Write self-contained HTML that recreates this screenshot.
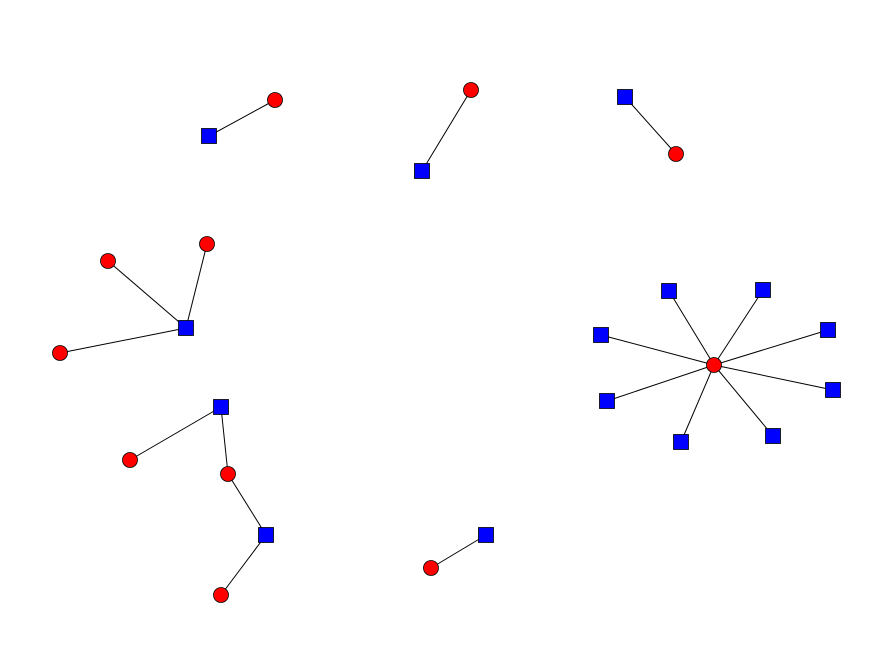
<!DOCTYPE html>
<html><head><meta charset="utf-8"><style>html,body{margin:0;padding:0;background:#fff}</style></head>
<body>
<svg width="876" height="663" xmlns="http://www.w3.org/2000/svg">
<g stroke="#000" stroke-width="1">
<line x1="209" y1="136" x2="275" y2="100"/>
<line x1="422" y1="171" x2="471" y2="90"/>
<line x1="625" y1="97" x2="676" y2="154"/>
<line x1="186" y1="328" x2="108" y2="261"/>
<line x1="186" y1="328" x2="207" y2="244"/>
<line x1="186" y1="328" x2="60" y2="353"/>
<line x1="221" y1="407" x2="130" y2="460"/>
<line x1="221" y1="407" x2="228" y2="474"/>
<line x1="228" y1="474" x2="266" y2="535"/>
<line x1="266" y1="535" x2="221" y2="595"/>
<line x1="486" y1="535" x2="431" y2="568"/>
<line x1="714" y1="365" x2="669" y2="291"/>
<line x1="714" y1="365" x2="763" y2="290"/>
<line x1="714" y1="365" x2="828" y2="330"/>
<line x1="714" y1="365" x2="601" y2="335"/>
<line x1="714" y1="365" x2="833" y2="390"/>
<line x1="714" y1="365" x2="607" y2="401"/>
<line x1="714" y1="365" x2="773" y2="436"/>
<line x1="714" y1="365" x2="681" y2="442"/>
</g>
<g fill="#0000ff" stroke="#000" stroke-width="0.8">
<rect x="201.5" y="128.5" width="15" height="15"/>
<rect x="414.5" y="163.5" width="15" height="15"/>
<rect x="617.5" y="89.5" width="15" height="15"/>
<rect x="178.5" y="320.5" width="15" height="15"/>
<rect x="213.5" y="399.5" width="15" height="15"/>
<rect x="258.5" y="527.5" width="15" height="15"/>
<rect x="478.5" y="527.5" width="15" height="15"/>
<rect x="661.5" y="283.5" width="15" height="15"/>
<rect x="755.5" y="282.5" width="15" height="15"/>
<rect x="820.5" y="322.5" width="15" height="15"/>
<rect x="593.5" y="327.5" width="15" height="15"/>
<rect x="825.5" y="382.5" width="15" height="15"/>
<rect x="599.5" y="393.5" width="15" height="15"/>
<rect x="765.5" y="428.5" width="15" height="15"/>
<rect x="673.5" y="434.5" width="15" height="15"/>
</g>
<g fill="#ff0000" stroke="#000" stroke-width="0.8">
<circle cx="275" cy="100" r="7.5"/>
<circle cx="471" cy="90" r="7.5"/>
<circle cx="676" cy="154" r="7.5"/>
<circle cx="108" cy="261" r="7.5"/>
<circle cx="207" cy="244" r="7.5"/>
<circle cx="60" cy="353" r="7.5"/>
<circle cx="130" cy="460" r="7.5"/>
<circle cx="228" cy="474" r="7.5"/>
<circle cx="221" cy="595" r="7.5"/>
<circle cx="431" cy="568" r="7.5"/>
<circle cx="714" cy="365" r="7.5"/>
</g>
</svg>
</body></html>
